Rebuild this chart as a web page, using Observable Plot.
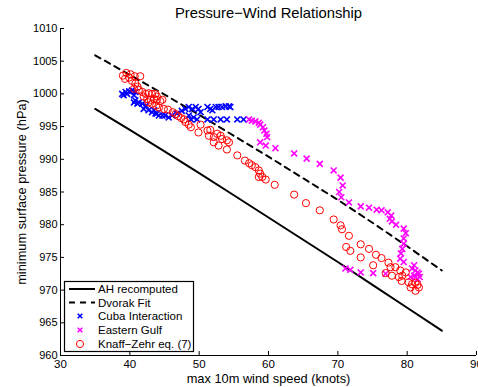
<!DOCTYPE html>
<html><head><meta charset="utf-8">
<script src="https://cdn.jsdelivr.net/npm/d3@7"></script>
<script src="https://cdn.jsdelivr.net/npm/@observablehq/plot@0.6"></script>
<style>
body{margin:0;background:#fff}
svg{font-family:"Liberation Sans",Arial,Helvetica,sans-serif}
</style>
</head><body><div id="chart"></div>
<script>
const xTicks = [30,40,50,60,70,80,90];
const yTicks = [960,965,970,975,980,985,990,995,1000,1005,1010];

const ahWind = [35,40,45,50,55,60,65,70,75,80,85];
const ahPressure = [997.7,994.5,991.2,987.9,984.5,981.1,977.7,974.3,970.8,967.3,963.8];

const dvorakWind = [35,40,45,50,55,60,65,70,75,80,85];
const dvorakPressure = [1005.9,1002.9,999.9,996.8,993.6,990.4,987.1,983.8,980.3,976.7,973.0];

const cubaWind = [38.9,39.4,39.9,40.3,40.8,39.1,39.6,40.6,40.8,41.3,41.1,41.8,42.3,42.0,42.7,43.2,43.7,44.2,44.7,45.1,45.6,46.1,46.8,47.5,48.0,48.5,49.0,49.5,49.9,50.2,51.2,51.6,51.9,52.4,52.8,53.3,53.8,54.3,54.5,48.8,49.7,51.2,52.1,53.1,54.0,55.5,56.4,48.5,49.2,40.6,43.5,43.9];
const cubaPressure = [1000.0,1000.3,1000.4,1000.5,1000.3,999.8,1000.0,999.8,999.0,998.7,998.5,998.5,998.2,997.7,997.5,997.2,997.0,996.7,996.7,996.7,996.4,996.7,997.0,997.4,997.7,998.0,997.7,998.0,997.7,997.2,998.0,997.7,997.5,998.0,998.0,998.0,998.1,998.1,998.0,996.1,996.1,996.1,996.1,996.1,996.1,996.1,996.1,996.7,996.4,998.7,997.5,997.0];

const gulfWind = [57.2,57.6,58.1,58.6,58.8,59.2,59.4,59.7,59.8,58.8,59.6,61.0,63.7,65.5,67.4,69.4,70.4,70.7,70.2,70.5,71.6,73.3,74.5,75.6,76.3,77.2,77.7,77.5,77.8,78.4,79.5,79.8,79.5,79.5,79.3,79.1,79.0,79.5,81.0,80.7,81.2,81.5,81.7,81.0,81.2,81.8,81.5,80.5,76.9,75.1,73.3,71.8,71.1];
const gulfPressure = [996.1,995.9,995.8,995.6,995.3,994.9,994.4,993.9,993.4,992.6,992.1,991.7,990.9,990.1,989.3,988.3,987.2,986.0,985.0,984.2,983.4,982.8,982.6,982.3,982.2,981.9,981.4,980.9,980.5,980.0,979.4,978.7,977.9,977.1,976.3,975.6,974.8,974.3,973.8,973.3,973.0,972.7,972.5,972.2,972.0,972.0,971.7,972.0,972.5,972.6,972.7,973.1,973.3];

const kzWind = [39.0,39.5,40.1,40.7,41.5,39.3,39.9,40.3,40.8,41.1,40.6,41.3,41.8,42.3,42.7,43.2,43.7,43.9,42.0,42.5,43.0,43.5,43.9,44.4,44.7,42.7,43.2,43.8,44.2,44.9,45.5,46.2,46.6,47.0,47.4,47.8,48.0,48.5,48.8,50.2,49.9,51.2,51.6,51.4,52.1,52.6,53.1,53.3,52.1,52.8,54.0,54.3,54.0,55.5,56.6,57.2,57.6,58.1,58.6,58.8,59.1,59.6,58.6,60.9,63.7,65.4,67.4,69.4,70.4,70.6,71.6,71.2,71.8,73.3,74.5,75.5,76.3,73.3,75.1,77.3,77.6,78.3,79.0,79.8,79.3,78.8,77.8,76.9,79.2,80.2,81.2,81.7,81.2,80.5,80.7,81.5];
const kzPressure = [1002.8,1003.2,1003.0,1002.7,1002.7,1002.3,1002.5,1002.0,1001.6,1001.1,1000.8,1000.6,1000.3,1000.0,1000.1,1000.0,1000.0,999.6,999.6,999.2,999.1,999.2,999.1,998.9,999.1,998.7,998.5,998.2,997.9,997.7,997.6,997.2,996.9,996.6,996.3,996.1,995.7,995.3,994.9,995.3,994.1,994.4,994.5,993.6,993.4,993.9,993.6,993.1,992.6,992.1,992.9,992.6,991.5,990.6,989.8,989.4,989.1,988.8,988.3,987.8,987.3,986.9,987.3,986.1,984.6,983.3,982.2,980.8,979.9,979.3,978.3,976.6,976.0,977.0,976.3,975.4,974.9,975.0,973.8,974.2,973.5,973.5,973.0,972.7,972.2,972.0,972.2,972.6,971.4,971.2,971.1,970.4,969.9,970.4,970.9,970.8];

const legendLabels = ["AH recomputed","Dvorak Fit","Cuba Interaction","Eastern Gulf","Knaff\u2212Zehr eq. (7)"];

const zip = (a,b) => a.map((v,i) => ({v, p: b[i]}));
const ah = zip(ahWind, ahPressure);
const dv = zip(dvorakWind, dvorakPressure);
const cuba = zip(cubaWind, cubaPressure);
const gulf = zip(gulfWind, gulfPressure);
const kz = zip(kzWind, kzPressure);

const W = 478, H = 387, mL = 60, mR = 2, mT = 28, mB = 32;
const innerW = W - mL - mR, innerH = H - mT - mB;
const font = "Liberation Sans, Arial, Helvetica, sans-serif";

const plot = Plot.plot({
  width: W, height: H,
  marginLeft: mL, marginRight: mR, marginTop: mT, marginBottom: mB,
  style: {fontFamily: font, fontSize: "11px", background: "white", color: "black", overflow: "visible"},
  x: {domain: [30, 90], ticks: xTicks, label: null},
  y: {domain: [960, 1010], ticks: yTicks, label: null},
  marks: [
    Plot.line(ah, {x: "v", y: "p", stroke: "black", strokeWidth: 2}),
    Plot.line(dv, {x: "v", y: "p", stroke: "black", strokeWidth: 2, strokeDasharray: "6,5"}),
    Plot.dot(cuba, {x: "v", y: "p", symbol: "times", r: 2.8, stroke: "#0000ff", strokeWidth: 1.6}),
    Plot.dot(gulf, {x: "v", y: "p", symbol: "times", r: 2.8, stroke: "#ff00ff", strokeWidth: 1.6}),
    Plot.dot(kz, {x: "v", y: "p", symbol: "circle", r: 3.6, stroke: "#ff0000", fill: "none", strokeWidth: 1}),
    Plot.axisX({ticks: xTicks, tickFormat: d3.format("d"), tickSize: 0, tickPadding: 4, label: null, fontSize: 11.5}),
    Plot.axisY({ticks: yTicks, tickFormat: d3.format("d"), tickSize: 0, tickPadding: 3, label: null, fontSize: 11}),
    Plot.tickX(xTicks, {x: d => d, insetTop: innerH - 4, stroke: "black"}),
    Plot.tickY(yTicks, {y: d => d, insetRight: innerW - 4, stroke: "black"}),
    Plot.ruleY([960], {stroke: "black"}),
    Plot.ruleX([30], {stroke: "black"}),
    Plot.text(["Pressure\u2212Wind Relationship"], {frameAnchor: "top", lineAnchor: "middle", textAnchor: "middle", dy: -15, fontSize: 14.8}),
    Plot.text(["max 10m wind speed (knots)"], {frameAnchor: "bottom", lineAnchor: "middle", textAnchor: "middle", dy: 23, fontSize: 12.8}),
    Plot.text(["minimum surface pressure (hPa)"], {frameAnchor: "left", lineAnchor: "middle", textAnchor: "middle", dx: -39, rotate: -90, fontSize: 12.8})
  ]
});
document.getElementById("chart").appendChild(plot);

// legend
const svg = d3.select(plot);
const lg = svg.append("g").attr("font-family", font).attr("font-size", 11.5).attr("text-anchor", "start");
lg.append("rect").attr("x", 64.5).attr("y", 281.5).attr("width", 129).attr("height", 70)
  .attr("fill", "white").attr("stroke", "black").attr("stroke-width", 1.2);
const rowY = [289, 302.5, 316, 330, 344];
lg.append("line").attr("x1", 69).attr("x2", 95).attr("y1", rowY[0]).attr("y2", rowY[0]).attr("stroke", "black").attr("stroke-width", 2);
lg.append("line").attr("x1", 69).attr("x2", 95).attr("y1", rowY[1]).attr("y2", rowY[1]).attr("stroke", "black").attr("stroke-width", 2).attr("stroke-dasharray", "6,5");
const cross = (cx, cy, color) => {
  const s = 2.3;
  lg.append("path").attr("d", `M${cx-s},${cy-s}L${cx+s},${cy+s}M${cx-s},${cy+s}L${cx+s},${cy-s}`)
    .attr("stroke", color).attr("stroke-width", 1.6).attr("fill", "none");
};
cross(80, rowY[2], "#0000ff");
cross(80, rowY[3], "#ff00ff");
lg.append("circle").attr("cx", 80).attr("cy", rowY[4]).attr("r", 3.6).attr("fill", "none").attr("stroke", "#ff0000");
legendLabels.forEach((t, i) => {
  lg.append("text").attr("x", 98).attr("y", rowY[i]).attr("dy", "0.35em").attr("fill", "black").attr("text-anchor", "start").text(t);
});
</script>
</body></html>
